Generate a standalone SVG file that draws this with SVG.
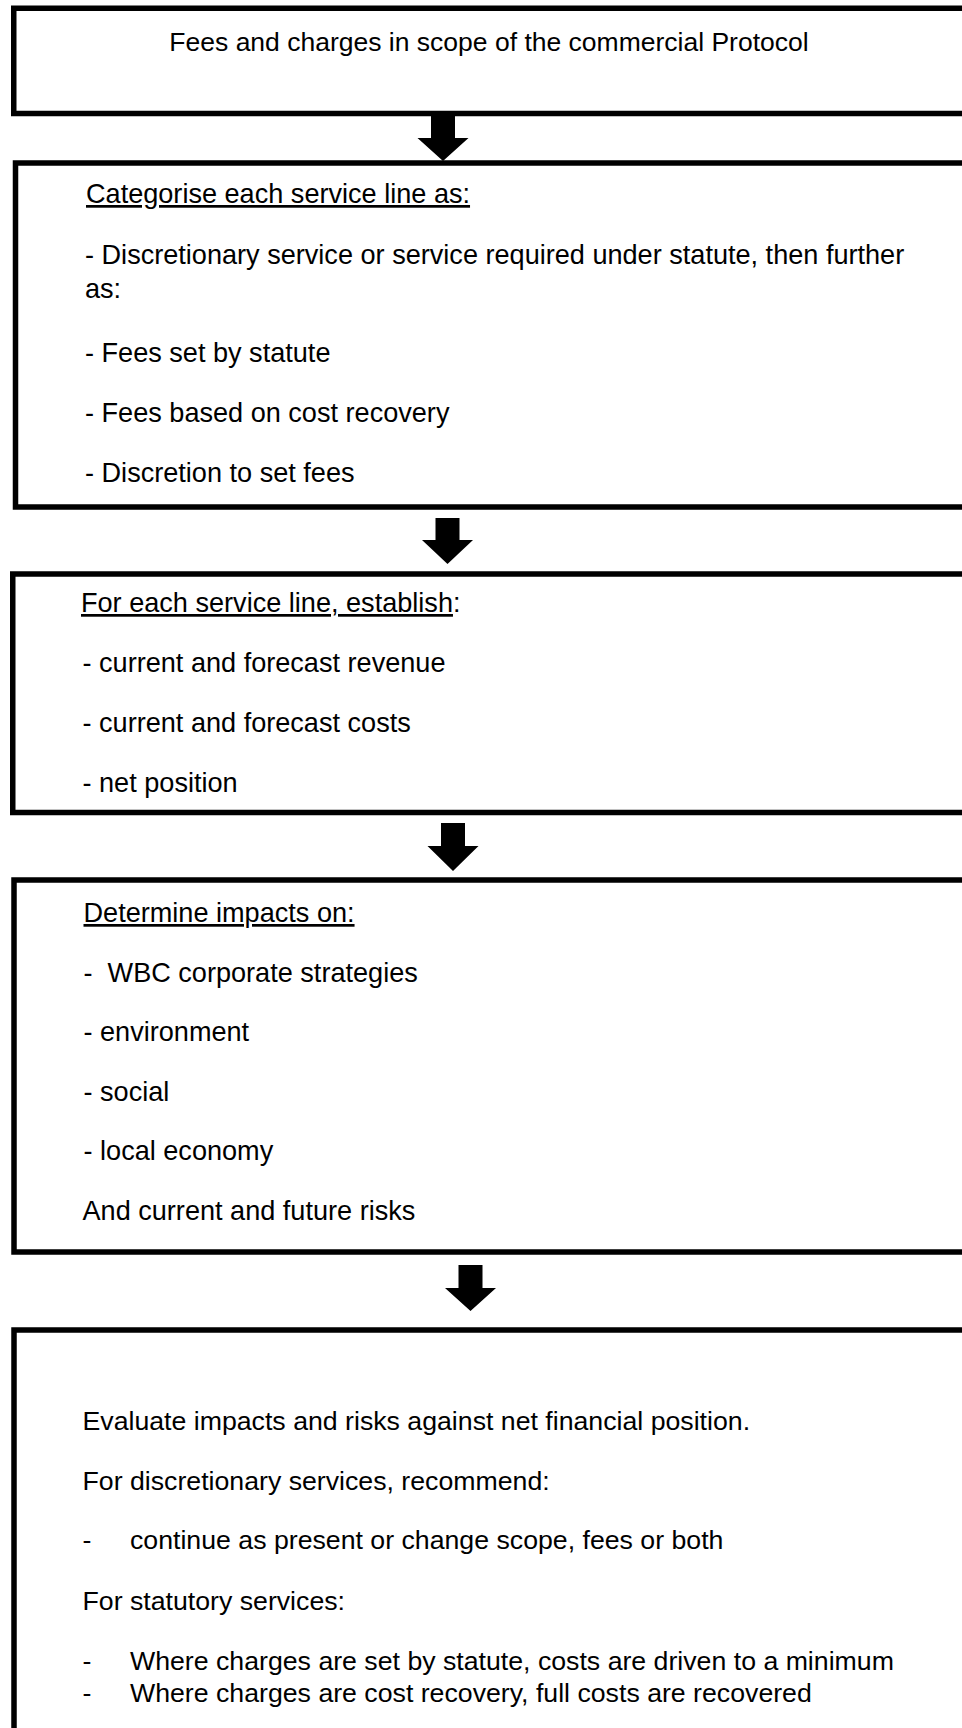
<svg xmlns="http://www.w3.org/2000/svg" width="962" height="1728" viewBox="0 0 962 1728">
<style>
.box{fill:#fff;stroke:#000;stroke-width:5.5}
.t{font-family:"Liberation Sans",Arial,sans-serif;font-size:27.1px;fill:#000}
.h{font-size:26.5px}
.s{font-size:26.7px}
.u{text-decoration:underline}
.arrow{fill:#000;stroke:none}
</style>
<rect width="962" height="1728" fill="#fff"/>
<g id="node1">
<rect class="box" x="13.75" y="8.25" width="970" height="105.25"/>
<text class="t h" x="489" y="51" text-anchor="middle">Fees and charges in scope of the commercial Protocol</text>
</g>
<g id="node2">
<rect class="box" x="15.5" y="163" width="970" height="344"/>
<text class="t u" x="86" y="203">Categorise each service line as:</text>
<text class="t" x="85" y="264">- Discretionary service or service required under statute, then further</text>
<text class="t" x="85" y="298">as:</text>
<text class="t" x="85" y="362">- Fees set by statute</text>
<text class="t" x="85" y="422">- Fees based on cost recovery</text>
<text class="t" x="85" y="482">- Discretion to set fees</text>
</g>
<g id="node3">
<rect class="box" x="12.75" y="574" width="970" height="238.5"/>
<text class="t" x="81" y="612"><tspan class="u">For each service line, establish</tspan>:</text>
<text class="t" x="82.5" y="672">- current and forecast revenue</text>
<text class="t" x="82.5" y="732">- current and forecast costs</text>
<text class="t" x="82.5" y="792">- net position</text>
</g>
<g id="node4">
<rect class="box" x="14" y="880" width="970" height="372"/>
<text class="t u" x="83.5" y="922">Determine impacts on:</text>
<text class="t" x="83.5" y="982" xml:space="preserve">-  WBC corporate strategies</text>
<text class="t" x="83.5" y="1041">- environment</text>
<text class="t" x="83.5" y="1101">- social</text>
<text class="t" x="83.5" y="1160">- local economy</text>
<text class="t" x="82.5" y="1220">And current and future risks</text>
</g>
<g id="node5">
<rect class="box" x="14" y="1330" width="970" height="420"/>
<text class="t s" x="82.5" y="1430">Evaluate impacts and risks against net financial position.</text>
<text class="t s" x="82.5" y="1490">For discretionary services, recommend:</text>
<text class="t s" x="82.5" y="1549">-</text>
<text class="t s" x="130" y="1549">continue as present or change scope, fees or both</text>
<text class="t s" x="82.5" y="1610">For statutory services:</text>
<text class="t s" x="82.5" y="1670">-</text>
<text class="t s" x="130" y="1670">Where charges are set by statute, costs are driven to a minimum</text>
<text class="t s" x="82.5" y="1702">-</text>
<text class="t s" x="130" y="1702">Where charges are cost recovery, full costs are recovered</text>
</g>
<g id="connectors">
<polygon class="arrow" points="431,116 455,116 455,138 468.5,138 443,161 417.5,138 431,138"/>
<polygon class="arrow" points="435.5,518 459.5,518 459.5,540 473,540 447.5,564 422,540 435.5,540"/>
<polygon class="arrow" points="441,823 465,823 465,846 478.5,846 453,871 427.5,846 441,846"/>
<polygon class="arrow" points="458.5,1265 482.5,1265 482.5,1288 496,1288 470.5,1311 445,1288 458.5,1288"/>
</g>
</svg>
